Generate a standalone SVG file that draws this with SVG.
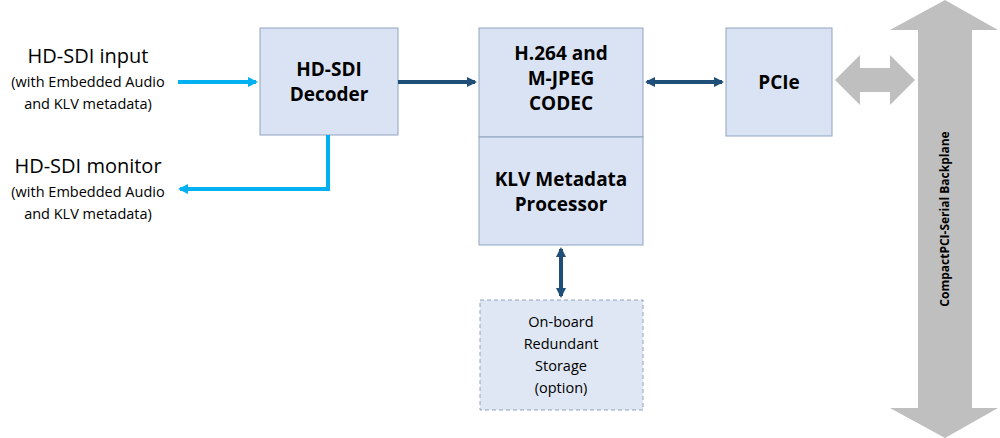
<svg xmlns="http://www.w3.org/2000/svg" width="1000" height="438" viewBox="0 0 1000 438">
<style>
text{font-family:"Open Sans","Noto Sans","Liberation Sans",sans-serif;fill:#000;text-anchor:middle}
.box{fill:#dae3f3;stroke:#8fa3bf;stroke-width:1}
.b{font-weight:bold;font-size:19px}
.lbl{font-size:20px}
.sm{font-size:14.5px}
.lb{stroke:#00b0f0;stroke-width:4;fill:none}
.db{stroke:#1f4e79;stroke-width:4;fill:none}
</style>
<defs>
<marker id="al" markerWidth="10" markerHeight="10" refX="8" refY="5" orient="auto-start-reverse" markerUnits="userSpaceOnUse"><path d="M0,0 L10,5 L0,10 Z" fill="#00b0f0"/></marker>
<marker id="ad" markerWidth="10" markerHeight="10" refX="8" refY="5" orient="auto-start-reverse" markerUnits="userSpaceOnUse"><path d="M0,0 L10,5 L0,10 Z" fill="#1f4e79"/></marker>
</defs>
<g id="backplane">
<polygon points="945,0 998,30 972,30 972,408 998,408 945,438 890,408 918,408 918,30 890,30" fill="#bfbfbf"/>
<text transform="translate(949,219) rotate(-90)" font-size="12" font-weight="bold">CompactPCI-Serial Backplane</text>
</g>
<g id="decoder"><rect class="box" x="260" y="28" width="138" height="107"/><text class="b" x="329" y="76">HD-SDI</text><text class="b" x="329" y="101">Decoder</text></g>
<g id="codec"><rect class="box" x="479" y="28" width="164" height="109"/><text class="b" x="561" y="60">H.264 and</text><text class="b" x="561" y="85">M-JPEG</text><text class="b" x="561" y="110">CODEC</text></g>
<g id="klv"><rect class="box" x="479" y="137" width="164" height="108"/><text class="b" x="561" y="186">KLV Metadata</text><text class="b" x="561" y="211">Processor</text></g>
<g id="pcie"><rect class="box" x="726" y="28" width="106" height="108"/><text class="b" x="779" y="89">PCIe</text></g>
<g id="storage"><rect x="480" y="300" width="163" height="110" fill="#dee7f3" stroke="#8fa3bf" stroke-dasharray="4,3"/>
<text class="sm" x="561" y="327">On-board</text><text class="sm" x="561" y="349">Redundant</text><text class="sm" x="561" y="371">Storage</text><text class="sm" x="561" y="393">(option)</text></g>
<g id="input"><text class="lbl" x="88" y="63">HD-SDI input</text><text class="sm" x="88" y="87">(with Embedded Audio</text><text class="sm" x="88" y="109">and KLV metadata)</text></g>
<g id="monitor"><text class="lbl" x="88" y="173">HD-SDI monitor</text><text class="sm" x="88" y="197">(with Embedded Audio</text><text class="sm" x="88" y="219">and KLV metadata)</text></g>
<g id="connectors">
<line class="lb" x1="178" y1="82" x2="256" y2="82" marker-end="url(#al)"/>
<polyline class="lb" points="328,135 328,189 180,189" marker-end="url(#al)"/>
<line class="db" x1="398" y1="82" x2="475" y2="82" marker-end="url(#ad)"/>
<line class="db" x1="647" y1="82" x2="722" y2="82" marker-start="url(#ad)" marker-end="url(#ad)"/>
<line class="db" x1="561" y1="249" x2="561" y2="296" marker-start="url(#ad)" marker-end="url(#ad)"/>
<polygon points="835,80 860,55 860,68 890,68 890,55 915,80 890,105 890,92 860,92 860,105" fill="#bfbfbf"/>
</g>
</svg>
